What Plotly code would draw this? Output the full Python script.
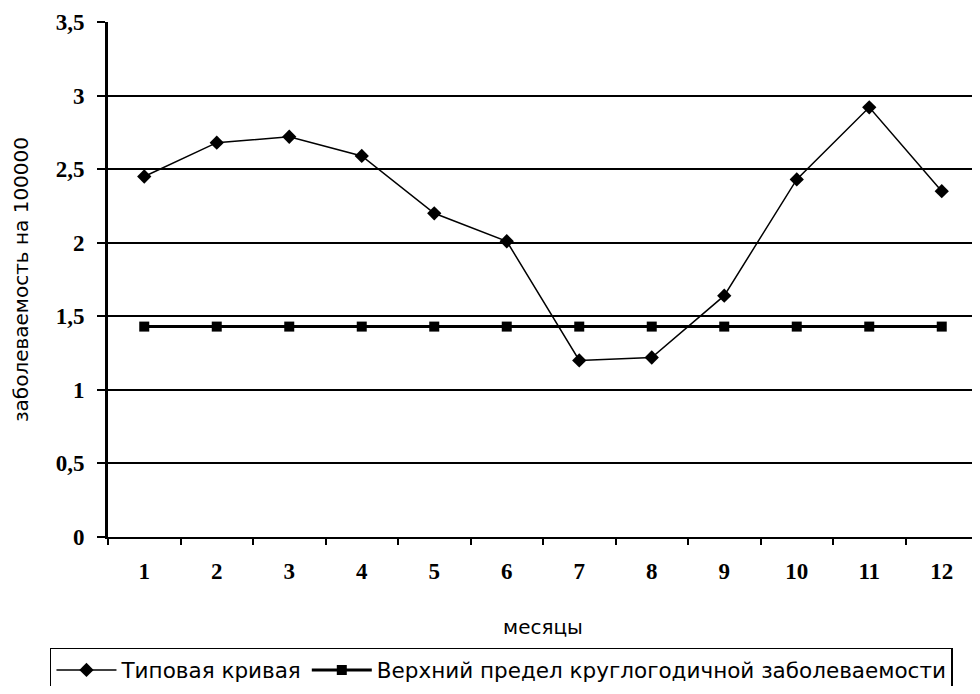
import plotly.graph_objects as go

months = ["1", "2", "3", "4", "5", "6", "7", "8", "9", "10", "11", "12"]
typical_curve = [2.45, 2.68, 2.72, 2.59, 2.20, 2.01, 1.20, 1.22, 1.64, 2.43, 2.92, 2.35]
upper_limit = [1.43] * 12
y_tick_vals = [0, 0.5, 1, 1.5, 2, 2.5, 3, 3.5]
y_tick_text = ["0", "0,5", "1", "1,5", "2", "2,5", "3", "3,5"]

sans = "DejaVu Sans"
serif = "Liberation Serif"

fig = go.Figure()
fig.add_trace(go.Scatter(
    x=months, y=typical_curve, mode="lines+markers",
    name="Типовая кривая",
    line=dict(color="black", width=1.5),
    marker=dict(symbol="diamond", size=11, color="black"),
))
fig.add_trace(go.Scatter(
    x=months, y=upper_limit, mode="lines+markers",
    name="Верхний предел круглогодичной заболеваемости",
    line=dict(color="black", width=3),
    marker=dict(symbol="square", size=10, color="black"),
))

fig.update_layout(
    width=972, height=678,
    margin=dict(l=100, r=2, t=14, b=149, autoexpand=False),
    paper_bgcolor="white", plot_bgcolor="white",
    showlegend=True,
    legend=dict(
        orientation="h", x=-0.0667, xanchor="left", y=-0.2155, yanchor="top",
        bordercolor="black", borderwidth=1.5, bgcolor="white",
        font=dict(family=sans, size=21.5, color="black"),
        itemwidth=60, tracegroupgap=0,
    ),
    xaxis=dict(
        type="category", range=[-0.5, 11.5], automargin=False,
        showgrid=False, showline=True, linecolor="black", linewidth=2,
        ticks="outside", tickson="boundaries", ticklen=6, tickwidth=2, tickcolor="black",
        tickfont=dict(family=serif, size=23, color="black", weight="bold"),
        ticklabelstandoff=12,
        title=dict(text="месяцы", font=dict(family=sans, size=20, color="black"), standoff=37),
        zeroline=False, fixedrange=True,
    ),
    yaxis=dict(
        range=[0, 3.5], tickvals=y_tick_vals, ticktext=y_tick_text, automargin=False,
        showgrid=True, gridcolor="black", gridwidth=1.5,
        showline=True, linecolor="black", linewidth=3,
        ticks="outside", ticklen=8, tickwidth=1.5, tickcolor="black",
        tickfont=dict(family=serif, size=23, color="black", weight="bold"),
        ticklabelstandoff=8,
        title=dict(text="заболеваемость на 100000", font=dict(family=sans, size=20, color="black"), standoff=22),
        zeroline=False, fixedrange=True,
    ),
)

fig.write_html("out.html")
